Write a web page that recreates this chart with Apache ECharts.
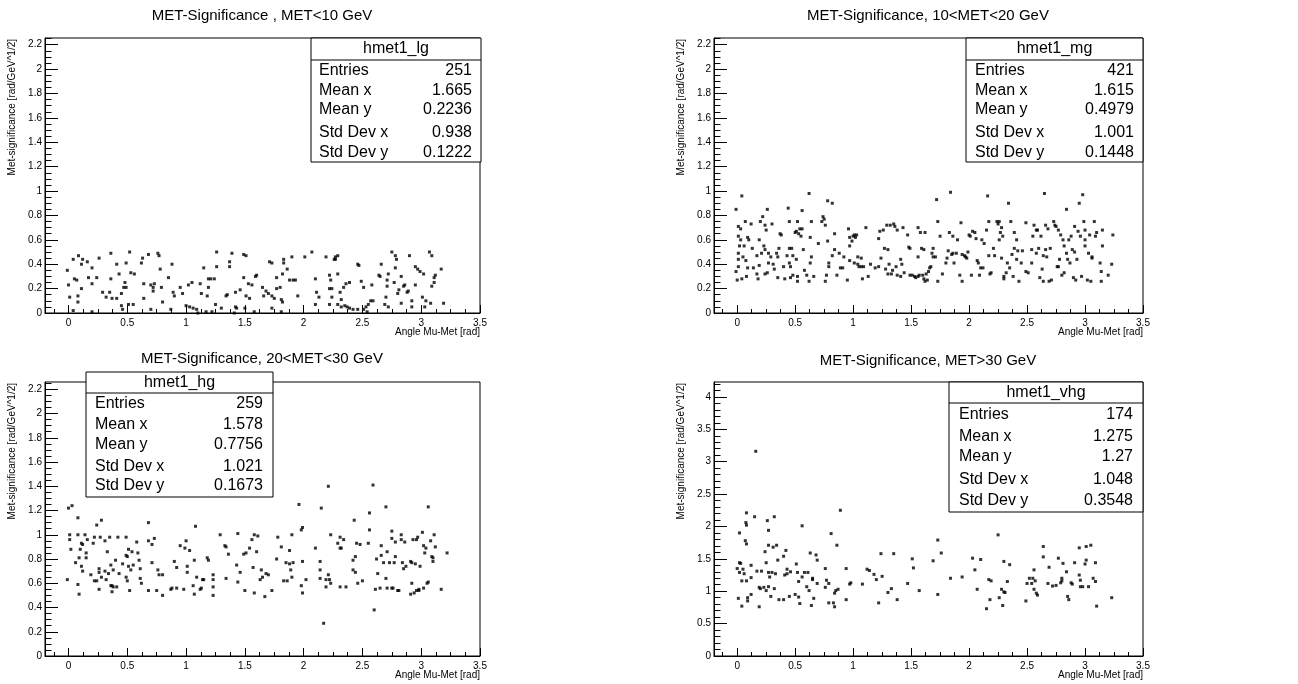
<!DOCTYPE html>
<html><head><meta charset="utf-8">
<script src="https://cdn.jsdelivr.net/npm/echarts@6/dist/echarts.min.js"></script>
<style>html,body{margin:0;padding:0;background:#fff}#c{width:1298px;height:684px}</style>
</head><body><div id="c"></div>
<script>
// ---------------- data ----------------
const panelTitles = ['MET-Significance , MET<10 GeV', 'MET-Significance, 10<MET<20 GeV', 'MET-Significance, 20<MET<30 GeV', 'MET-Significance, MET>30 GeV'];
const histNames = ['hmet1_lg', 'hmet1_mg', 'hmet1_hg', 'hmet1_vhg'];
const statLabels = ['Entries', 'Mean x', 'Mean y', 'Std Dev x', 'Std Dev y'];
const statsLg = ['251', '1.665', '0.2236', '0.938', '0.1222'];
const statsMg = ['421', '1.615', '0.4979', '1.001', '0.1448'];
const statsHg = ['259', '1.578', '0.7756', '1.021', '0.1673'];
const statsVhg = ['174', '1.275', '1.27', '1.048', '0.3548'];
const xTickLabels = [0, 0.5, 1, 1.5, 2, 2.5, 3, 3.5];
const yTickLabelsLow = [0, 0.2, 0.4, 0.6, 0.8, 1, 1.2, 1.4, 1.6, 1.8, 2, 2.2];
const yTickLabelsHigh = [0, 0.5, 1, 1.5, 2, 2.5, 3, 3.5, 4];
const xAxisTitle = 'Angle Mu-Met [rad]';
const yAxisTitle = 'Met-significance [rad/GeV^1/2]';

const pointsLg = [[-0.01,0.35],[0,0.23],[0.01,0.13],[0.04,0.02],[0.04,0.44],[0.05,0.28],[0.07,0.27],[0.085,0.47],[0.08,0.14],[0.08,0.09],[0.11,0.40],[0.12,0.44],[0.11,0.20],[0.16,0.42],[0.17,0.29],[0.20,0.24],[0.20,0.37],[0.20,0.01],[0.24,0.29],[0.26,0.45],[0.29,0.17],[0.32,0.13],[0.35,0.17],[0.36,0.49],[0.36,0.28],[0.37,0.12],[0.41,0.40],[0.41,0.12],[0.43,0.32],[0.45,0.16],[0.45,0.06],[0.46,0.03],[0.48,0.25],[0.47,0.21],[0.49,0.41],[0.49,0.21],[0.52,0.50],[0.51,0.07],[0.53,0.33],[0.55,0.07],[0.56,0.32],[0.62,0.41],[0.63,0.45],[0.64,0.24],[0.64,0.12],[0.68,0.48],[0.70,0.03],[0.70,0.23],[0.72,0.21],[0.73,0.24],[0.72,0.18],[0.76,0.49],[0.77,0.47],[0.78,0.36],[0.79,0.21],[0.80,0.09],[0.85,0.29],[0.87,0.03],[0.88,0.40],[0.89,0.17],[0.90,0.14],[0.95,0.21],[0.97,0.16],[1.00,0.06],[1.02,0.23],[1.03,0.05],[1.05,0.25],[1.06,0.04],[1.09,0.03],[1.10,0.00],[1.12,0.24],[1.13,0.16],[1.15,0.37],[1.17,0.01],[1.18,0.14],[1.19,0.21],[1.19,0.28],[1.21,0.28],[1.22,0.01],[1.24,0.28],[1.26,0.50],[1.26,0.38],[1.25,0.07],[1.30,0.04],[1.34,0.14],[1.35,0.15],[1.37,0.42],[1.37,0.38],[1.39,0.49],[1.42,0.17],[1.42,0.05],[1.43,0.04],[1.41,0.00],[1.46,0.19],[1.49,0.48],[1.51,0.47],[1.49,0.29],[1.50,0.04],[1.51,0.14],[1.54,0.12],[1.53,0.24],[1.56,0.23],[1.58,0.01],[1.59,0.30],[1.60,0.31],[1.65,0.21],[1.66,0.14],[1.68,0.18],[1.70,0.16],[1.71,0.42],[1.73,0.41],[1.73,0.14],[1.73,0.04],[1.75,0.12],[1.77,0.20],[1.77,0.29],[1.80,0.21],[1.81,0.11],[1.81,0.01],[1.82,0.32],[1.82,0.09],[1.83,0.44],[1.83,0.41],[1.86,0.36],[1.88,0.27],[1.90,0.46],[1.91,0.27],[1.93,0.27],[1.95,0.14],[2.01,0.46],[2.07,0.50],[2.10,0.28],[2.11,0.17],[2.10,0.07],[2.13,0.13],[2.19,0.46],[2.22,0.31],[2.23,0.27],[2.22,0.20],[2.22,0.07],[2.24,0.20],[2.24,0.13],[2.26,0.44],[2.27,0.44],[2.27,0.46],[2.29,0.32],[2.29,0.47],[2.29,0.07],[2.31,0.17],[2.32,0.11],[2.32,0.05],[2.34,0.21],[2.35,0.06],[2.36,0.24],[2.37,0.05],[2.39,0.25],[2.39,0.04],[2.42,0.03],[2.46,0.40],[2.47,0.39],[2.46,0.03],[2.49,0.26],[2.51,0.21],[2.51,0.03],[2.53,0.05],[2.55,0.07],[2.54,0.01],[2.57,0.10],[2.59,0.10],[2.58,0.23],[2.66,0.40],[2.64,0.31],[2.65,0.30],[2.69,0.07],[2.70,0.13],[2.71,0.27],[2.71,0.22],[2.72,0.32],[2.72,0.05],[2.75,0.50],[2.77,0.25],[2.78,0.47],[2.79,0.44],[2.78,0.37],[2.80,0.16],[2.81,0.19],[2.83,0.08],[2.83,0.30],[2.85,0.22],[2.86,0.23],[2.88,0.17],[2.89,0.18],[2.90,0.47],[2.92,0.10],[2.92,0.05],[2.95,0.23],[2.95,0.38],[2.97,0.36],[2.99,0.34],[3.01,0.13],[3.02,0.32],[3.03,0.05],[3.04,0.10],[3.07,0.50],[3.09,0.47],[3.09,0.22],[3.08,0.08],[3.11,0.29],[3.12,0.31],[3.11,0.25],[3.17,0.36],[3.19,0.08]];

const pointsMg = [[-0.01,0.85],[-0.01,0.34],[0,0.27],[0.01,0.63],[0.01,0.49],[0.01,0.44],[0.01,0.38],[0.01,0.71],[0.02,0.55],[0.03,0.69],[0.03,0.60],[0.04,0.96],[0.04,0.28],[0.05,0.46],[0.06,0.55],[0.07,0.75],[0.075,0.43],[0.08,0.30],[0.09,0.62],[0.09,0.37],[0.10,0.60],[0.12,0.73],[0.13,0.53],[0.14,0.37],[0.17,0.47],[0.17,0.32],[0.18,0.28],[0.19,0.39],[0.19,0.60],[0.20,0.75],[0.21,0.49],[0.22,0.79],[0.23,0.55],[0.24,0.32],[0.24,0.52],[0.24,0.72],[0.25,0.68],[0.26,0.85],[0.26,0.33],[0.27,0.49],[0.27,0.41],[0.29,0.46],[0.30,0.73],[0.31,0.40],[0.32,0.36],[0.34,0.49],[0.35,0.29],[0.35,0.46],[0.36,0.53],[0.37,0.65],[0.38,0.64],[0.40,0.38],[0.41,0.28],[0.43,0.47],[0.44,0.86],[0.45,0.75],[0.45,0.53],[0.46,0.29],[0.46,0.38],[0.45,0.41],[0.47,0.53],[0.48,0.47],[0.48,0.31],[0.50,0.66],[0.51,0.44],[0.51,0.67],[0.52,0.30],[0.52,0.75],[0.52,0.26],[0.53,0.65],[0.54,0.69],[0.55,0.63],[0.56,0.84],[0.56,0.69],[0.57,0.52],[0.58,0.35],[0.60,0.31],[0.62,0.26],[0.62,0.98],[0.63,0.62],[0.63,0.41],[0.64,0.75],[0.64,0.46],[0.66,0.30],[0.70,0.57],[0.73,0.75],[0.74,0.79],[0.75,0.77],[0.76,0.72],[0.76,0.26],[0.77,0.31],[0.78,0.59],[0.78,0.92],[0.79,0.38],[0.79,0.41],[0.82,0.90],[0.82,0.47],[0.84,0.65],[0.84,0.52],[0.86,0.31],[0.88,0.49],[0.89,0.37],[0.91,0.37],[0.92,0.46],[0.95,0.27],[0.96,0.69],[0.97,0.55],[0.97,0.62],[0.99,0.59],[1.00,0.63],[1.01,0.64],[0.97,0.43],[1.01,0.41],[1.02,0.62],[1.03,0.64],[1.04,0.46],[1.04,0.40],[1.05,0.38],[1.07,0.45],[1.07,0.38],[1.08,0.28],[1.09,0.38],[1.11,0.70],[1.13,0.30],[1.15,0.40],[1.19,0.37],[1.22,0.38],[1.22,0.61],[1.23,0.67],[1.24,0.45],[1.26,0.68],[1.27,0.53],[1.28,0.36],[1.29,0.72],[1.30,0.32],[1.30,0.52],[1.31,0.40],[1.32,0.72],[1.33,0.32],[1.34,0.35],[1.35,0.73],[1.36,0.71],[1.37,0.38],[1.38,0.68],[1.38,0.31],[1.41,0.44],[1.41,0.30],[1.42,0.40],[1.43,0.70],[1.44,0.33],[1.47,0.64],[1.48,0.54],[1.49,0.53],[1.49,0.31],[1.51,0.31],[1.53,0.30],[1.54,0.29],[1.56,0.30],[1.56,0.70],[1.56,0.46],[1.57,0.31],[1.58,0.66],[1.59,0.53],[1.60,0.31],[1.61,0.52],[1.61,0.28],[1.62,0.66],[1.62,0.26],[1.63,0.32],[1.64,0.27],[1.65,0.34],[1.66,0.37],[1.67,0.38],[1.68,0.49],[1.69,0.46],[1.69,0.53],[1.71,0.46],[1.72,0.93],[1.73,0.75],[1.73,0.26],[1.75,0.63],[1.77,0.32],[1.80,0.41],[1.81,0.45],[1.82,0.51],[1.83,0.66],[1.84,0.99],[1.85,0.48],[1.86,0.63],[1.86,0.49],[1.87,0.41],[1.89,0.49],[1.90,0.60],[1.92,0.31],[1.93,0.74],[1.94,0.26],[1.94,0.48],[1.96,0.47],[1.97,0.46],[1.98,0.45],[1.99,0.50],[2.00,0.64],[2.01,0.63],[2.02,0.31],[2.03,0.67],[2.05,0.66],[2.06,0.61],[2.07,0.43],[2.08,0.41],[2.09,0.31],[2.10,0.37],[2.11,0.60],[2.12,0.37],[2.13,0.57],[2.15,0.68],[2.16,0.96],[2.17,0.75],[2.17,0.47],[2.18,0.32],[2.19,0.33],[2.21,0.53],[2.22,0.47],[2.24,0.75],[2.25,0.73],[2.26,0.75],[2.26,0.60],[2.27,0.66],[2.28,0.70],[2.28,0.45],[2.29,0.63],[2.30,0.28],[2.30,0.30],[2.32,0.33],[2.33,0.41],[2.34,0.90],[2.35,0.37],[2.36,0.75],[2.37,0.48],[2.38,0.30],[2.39,0.66],[2.39,0.53],[2.41,0.60],[2.41,0.44],[2.42,0.51],[2.43,0.26],[2.45,0.41],[2.46,0.51],[2.49,0.74],[2.49,0.34],[2.51,0.33],[2.54,0.41],[2.54,0.52],[2.55,0.63],[2.56,0.72],[2.58,0.68],[2.58,0.49],[2.59,0.68],[2.60,0.53],[2.61,0.29],[2.62,0.63],[2.63,0.36],[2.64,0.26],[2.64,0.47],[2.65,0.98],[2.66,0.52],[2.66,0.72],[2.67,0.46],[2.68,0.69],[2.69,0.26],[2.70,0.53],[2.71,0.27],[2.73,0.75],[2.74,0.72],[2.75,0.71],[2.76,0.38],[2.77,0.68],[2.77,0.38],[2.78,0.44],[2.79,0.64],[2.80,0.31],[2.81,0.60],[2.82,0.55],[2.82,0.33],[2.84,0.49],[2.84,0.85],[2.85,0.44],[2.86,0.60],[2.87,0.41],[2.88,0.63],[2.89,0.52],[2.90,0.29],[2.91,0.71],[2.91,0.50],[2.92,0.27],[2.93,0.44],[2.94,0.67],[2.95,0.90],[2.96,0.63],[2.97,0.30],[2.98,0.97],[2.99,0.75],[3.00,0.68],[3.00,0.60],[3.00,0.55],[3.02,0.27],[3.03,0.49],[3.04,0.64],[3.05,0.26],[3.06,0.45],[3.06,0.46],[3.08,0.75],[3.09,0.63],[3.10,0.66],[3.13,0.41],[3.14,0.26],[3.14,0.34],[3.15,0.55],[3.15,0.68],[3.20,0.31],[3.23,0.40],[3.24,0.64]];

const pointsHg = [[-0.01,0.63],[0,1.22],[0.03,1.24],[0.01,0.96],[0.01,1.00],[0.02,0.88],[0.06,0.77],[0.08,1.14],[0.08,1.00],[0.08,0.59],[0.09,0.51],[0.09,0.81],[0.10,0.88],[0.11,0.74],[0.11,0.93],[0.12,0.70],[0.12,0.92],[0.14,1.00],[0.15,0.85],[0.15,0.81],[0.16,0.96],[0.19,0.67],[0.22,0.98],[0.21,0.93],[0.22,0.62],[0.24,1.08],[0.24,0.62],[0.26,0.72],[0.26,0.69],[0.26,0.55],[0.27,0.98],[0.28,1.12],[0.28,0.65],[0.31,0.95],[0.31,0.70],[0.32,0.63],[0.33,0.86],[0.34,0.68],[0.35,0.98],[0.36,0.75],[0.36,0.58],[0.37,0.53],[0.37,0.58],[0.38,0.71],[0.38,0.57],[0.40,0.79],[0.41,0.57],[0.42,0.98],[0.43,0.68],[0.46,0.76],[0.49,0.65],[0.49,0.98],[0.49,0.83],[0.50,0.82],[0.50,0.62],[0.51,0.88],[0.51,0.74],[0.52,0.54],[0.53,0.71],[0.54,0.86],[0.55,0.75],[0.58,0.94],[0.59,0.85],[0.60,0.79],[0.61,0.72],[0.61,0.64],[0.62,0.60],[0.68,0.95],[0.68,1.10],[0.68,0.54],[0.71,0.92],[0.71,0.77],[0.73,0.97],[0.75,0.54],[0.76,0.71],[0.77,0.67],[0.80,0.67],[0.80,0.50],[0.87,0.55],[0.88,0.56],[0.90,0.78],[0.92,0.56],[0.92,0.73],[0.95,0.91],[0.98,0.55],[0.99,0.89],[1.00,0.95],[1.01,0.74],[1.01,0.69],[1.03,0.87],[1.06,0.58],[1.07,0.79],[1.07,0.51],[1.08,1.07],[1.09,0.65],[1.12,0.55],[1.13,0.56],[1.14,0.63],[1.15,0.63],[1.18,0.81],[1.19,0.79],[1.23,0.67],[1.23,0.57],[1.23,0.50],[1.23,0.63],[1.29,1.00],[1.33,0.91],[1.34,0.90],[1.34,0.64],[1.36,0.84],[1.43,0.75],[1.44,1.01],[1.44,0.61],[1.46,0.69],[1.49,0.84],[1.50,0.54],[1.51,0.85],[1.54,0.89],[1.56,0.96],[1.57,0.73],[1.58,0.52],[1.58,1.00],[1.60,0.86],[1.61,0.99],[1.63,0.63],[1.64,0.71],[1.65,0.65],[1.67,0.49],[1.68,0.68],[1.70,0.67],[1.73,0.54],[1.77,0.80],[1.78,0.98],[1.81,0.90],[1.83,0.62],[1.85,0.77],[1.86,0.62],[1.88,0.87],[1.88,0.76],[1.89,0.71],[1.90,1.00],[1.90,0.65],[1.91,0.77],[1.96,1.25],[1.98,0.58],[1.98,1.04],[1.99,1.06],[1.99,0.78],[1.99,0.52],[2.02,0.63],[2.10,0.89],[2.14,0.71],[2.14,0.78],[2.14,0.64],[2.15,1.22],[2.17,0.27],[2.19,0.63],[2.19,0.57],[2.21,0.67],[2.21,1.40],[2.22,0.63],[2.23,0.60],[2.23,1.00],[2.29,0.93],[2.31,0.89],[2.31,0.98],[2.31,0.57],[2.32,0.89],[2.34,0.96],[2.36,0.57],[2.42,0.79],[2.42,0.71],[2.43,1.12],[2.44,0.69],[2.44,0.82],[2.45,0.93],[2.46,0.60],[2.48,0.92],[2.50,0.62],[2.55,0.93],[2.56,1.04],[2.56,1.18],[2.59,1.41],[2.60,0.38],[2.61,0.55],[2.62,0.80],[2.63,0.68],[2.65,0.56],[2.66,0.83],[2.66,0.91],[2.68,0.77],[2.70,1.23],[2.70,0.64],[2.71,0.56],[2.71,0.86],[2.73,0.77],[2.75,0.56],[2.75,0.97],[2.75,1.03],[2.76,0.56],[2.77,0.77],[2.78,0.82],[2.78,0.94],[2.80,0.54],[2.81,0.54],[2.83,1.00],[2.83,0.96],[2.84,0.77],[2.85,0.72],[2.86,0.94],[2.87,0.74],[2.91,0.78],[2.91,0.51],[2.92,0.77],[2.92,0.60],[2.93,0.96],[2.94,0.52],[2.95,0.76],[2.96,0.54],[2.96,0.96],[2.97,0.98],[2.98,0.54],[2.98,0.55],[2.99,0.74],[3.01,1.02],[3.02,0.56],[3.02,0.91],[3.03,0.85],[3.04,0.89],[3.05,0.60],[3.06,0.61],[3.06,1.23],[3.08,0.95],[3.09,0.82],[3.10,0.78],[3.10,0.81],[3.11,1.00],[3.12,0.90],[3.17,0.55],[3.22,0.85]];

const pointsVhg = [[0.00,1.35],[0.01,0.89],[0.02,1.29],[0.02,1.90],[0.02,1.44],[0.03,1.43],[0.04,0.77],[0.04,1.16],[0.05,1.34],[0.06,1.27],[0.07,1.78],[0.075,2.06],[0.08,2.02],[0.08,1.73],[0.08,1.16],[0.08,2.21],[0.09,0.85],[0.09,0.90],[0.12,0.95],[0.12,1.21],[0.12,1.40],[0.15,2.15],[0.16,3.16],[0.17,1.31],[0.19,1.06],[0.19,0.76],[0.20,1.04],[0.21,1.31],[0.23,1.06],[0.24,1.61],[0.25,1.01],[0.25,1.44],[0.26,2.09],[0.27,1.94],[0.27,1.29],[0.27,1.07],[0.27,1.71],[0.28,1.22],[0.29,0.92],[0.30,1.29],[0.31,1.68],[0.32,2.15],[0.32,1.04],[0.33,1.27],[0.34,1.71],[0.35,1.48],[0.36,0.87],[0.40,0.87],[0.40,1.54],[0.41,1.25],[0.42,1.63],[0.43,1.34],[0.43,1.27],[0.45,0.92],[0.46,1.30],[0.50,0.95],[0.51,1.42],[0.52,1.29],[0.53,1.15],[0.53,0.91],[0.54,0.81],[0.56,1.22],[0.56,2.01],[0.58,1.29],[0.60,1.07],[0.61,1.29],[0.62,1.01],[0.63,1.59],[0.64,0.78],[0.65,1.20],[0.65,1.18],[0.66,0.89],[0.68,1.56],[0.69,1.48],[0.69,1.12],[0.76,1.35],[0.76,1.06],[0.77,1.17],[0.79,1.12],[0.79,0.82],[0.81,1.89],[0.83,0.82],[0.84,0.76],[0.84,0.97],[0.85,1.01],[0.86,1.71],[0.87,1.03],[0.89,2.25],[0.94,0.87],[0.94,1.35],[0.97,1.11],[0.98,1.13],[1.08,1.11],[1.12,1.34],[1.14,1.32],[1.18,1.26],[1.20,1.18],[1.22,0.82],[1.24,1.58],[1.25,1.23],[1.30,0.98],[1.33,1.04],[1.35,1.58],[1.38,0.87],[1.47,1.12],[1.51,1.50],[1.52,1.36],[1.57,1.01],[1.69,1.47],[1.73,1.79],[1.73,0.95],[1.76,1.59],[1.84,1.20],[1.94,1.22],[2.03,1.51],[2.05,1.33],[2.07,1.03],[2.10,1.49],[2.15,0.73],[2.17,1.18],[2.18,0.87],[2.19,1.16],[2.25,1.87],[2.26,0.90],[2.28,1.03],[2.29,0.78],[2.30,0.99],[2.30,1.46],[2.31,0.98],[2.33,1.15],[2.35,1.41],[2.49,0.85],[2.50,1.12],[2.52,1.20],[2.54,1.12],[2.55,1.20],[2.56,1.33],[2.56,1.03],[2.57,1.16],[2.58,0.97],[2.59,0.94],[2.64,1.69],[2.64,1.53],[2.68,1.12],[2.69,1.37],[2.72,1.08],[2.75,1.09],[2.77,1.51],[2.79,1.13],[2.80,1.20],[2.80,1.16],[2.81,1.43],[2.84,1.30],[2.85,0.92],[2.86,0.87],[2.88,1.13],[2.89,1.11],[2.91,1.44],[2.95,1.67],[2.95,1.25],[2.96,1.07],[2.96,1.17],[2.98,1.07],[3.01,1.69],[3.01,1.48],[3.00,1.42],[3.03,1.07],[3.05,1.71],[3.07,1.20],[3.09,1.15],[3.09,1.44],[3.10,0.77],[3.23,0.90]];

// ---------------- layout / style ----------------
const FONT = '"Liberation Sans", Arial, Helvetica, sans-serif';
const panels = [
  {pts: pointsLg, stats: statsLg, left:45, top:38, width:435, height:275, ymax:2.255, yMajor:yTickLabelsLow, yStep:0.05,
   tx:262, ty:16, box:{x:311,y:38,w:170,h:124,sep:60,head:49,rows:[70.7,90.7,110,132.7,152.3],labX:319,valX:472}},
  {pts: pointsMg, stats: statsMg, left:714, top:38, width:429, height:275, ymax:2.255, yMajor:yTickLabelsLow, yStep:0.05,
   tx:928, ty:16, box:{x:966,y:38,w:177,h:124,sep:60,head:49,rows:[70.7,90.7,110,132.7,152.3],labX:975,valX:1134}},
  {pts: pointsHg, stats: statsHg, left:45, top:382, width:435, height:274, ymax:2.26, yMajor:yTickLabelsLow, yStep:0.05,
   tx:262, ty:359.5, box:{x:86,y:372,w:187,h:125,sep:393,head:383,rows:[403.3,425,445,466.7,486],labX:95,valX:263}},
  {pts: pointsVhg, stats: statsVhg, left:714, top:382, width:429, height:274, ymax:4.23, yMajor:yTickLabelsHigh, yStep:0.1,
   tx:928, ty:361.5, box:{x:949,y:382,w:194,h:130,sep:403,head:393,rows:[415,436.7,456.7,480,500.7],labX:959,valX:1133}}
];
const XMIN = -0.2, XMAX = 3.5;
function steps(min, max, step) {
  const out = [];
  for (let k = Math.ceil(min / step - 1e-9); k * step <= max + 1e-9; k++) out.push(+(k * step).toFixed(4));
  return out;
}
const xMinor = steps(XMIN, XMAX, 0.125);

const grid = [], xAxis = [], yAxis = [], series = [], title = [], elements = [];
panels.forEach((p, i) => {
  grid.push({left:p.left, top:p.top, width:p.width, height:p.height, show:true, borderColor:'#000', borderWidth:1, backgroundColor:'transparent'});
  const lbl = {fontSize:10, color:'#000', fontFamily:FONT};
  xAxis.push({gridIndex:i, type:'value', position:'bottom', min:XMIN, max:XMAX,
    axisLine:{show:true, onZero:false, lineStyle:{color:'#000', width:1}},
    axisTick:{show:true, inside:true, length:8, customValues:xTickLabels, lineStyle:{color:'#000'}},
    axisLabel:Object.assign({customValues:xTickLabels, margin:5}, lbl),
    splitLine:{show:false}});
  xAxis.push({gridIndex:i, type:'value', position:'bottom', min:XMIN, max:XMAX,
    axisLine:{show:false, onZero:false}, axisTick:{show:true, inside:true, length:4, customValues:xMinor, lineStyle:{color:'#000'}},
    axisLabel:{show:false}, splitLine:{show:false}});
  yAxis.push({gridIndex:i, type:'value', position:'left', min:0, max:p.ymax,
    axisLine:{show:true, onZero:false, lineStyle:{color:'#000', width:1}},
    axisTick:{show:true, inside:true, length:13, customValues:p.yMajor, lineStyle:{color:'#000'}},
    axisLabel:Object.assign({customValues:p.yMajor, margin:3}, lbl),
    splitLine:{show:false}});
  yAxis.push({gridIndex:i, type:'value', position:'left', min:0, max:p.ymax,
    axisLine:{show:false, onZero:false}, axisTick:{show:true, inside:true, length:6.5, customValues:steps(0, p.ymax, p.yStep), lineStyle:{color:'#000'}},
    axisLabel:{show:false}, splitLine:{show:false}});
  series.push({type:'scatter', xAxisIndex:2*i, yAxisIndex:2*i, data:p.pts, symbol:'rect', symbolSize:3,
    itemStyle:{color:'#000'}, silent:true, animation:false});
  title.push({text:panelTitles[i], left:p.tx, top:p.ty - 8, textAlign:'center', padding:0,
    textStyle:{fontSize:15, fontWeight:'normal', color:'#000', fontFamily:FONT}});
  // axis titles
  elements.push({type:'text', x:p.left + p.width, y:p.top + p.height + 19, z:100,
    style:{text:xAxisTitle, fontSize:10, fontFamily:FONT, fill:'#000', align:'right', verticalAlign:'middle'}});
  elements.push({type:'text', x:p.left - 33, y:p.top + 1, rotation:Math.PI/2, z:100,
    style:{text:yAxisTitle, fontSize:10, fontFamily:FONT, fill:'#000', align:'right', verticalAlign:'middle'}});
  // stats box
  const b = p.box;
  elements.push({type:'rect', z:100, shape:{x:b.x, y:b.y, width:b.w, height:b.h},
    style:{fill:'#fff', stroke:'#000', lineWidth:1}});
  elements.push({type:'line', z:101, shape:{x1:b.x, y1:b.sep, x2:b.x + b.w, y2:b.sep},
    style:{stroke:'#000', lineWidth:1}});
  elements.push({type:'text', z:101, x:b.x + b.w / 2, y:b.head,
    style:{text:histNames[i], fontSize:16, fontFamily:FONT, fill:'#000', align:'center', verticalAlign:'middle'}});
  statLabels.forEach((s, k) => {
    elements.push({type:'text', z:101, x:b.labX, y:b.rows[k],
      style:{text:s, fontSize:16, fontFamily:FONT, fill:'#000', align:'left', verticalAlign:'middle'}});
    elements.push({type:'text', z:101, x:b.valX, y:b.rows[k],
      style:{text:p.stats[k], fontSize:16, fontFamily:FONT, fill:'#000', align:'right', verticalAlign:'middle'}});
  });
});

const chart = echarts.init(document.getElementById('c'), null, {renderer:'canvas'});
chart.setOption({animation:false, backgroundColor:'#fff', title, grid, xAxis, yAxis, series, graphic:{elements}});
</script>
</body></html>
